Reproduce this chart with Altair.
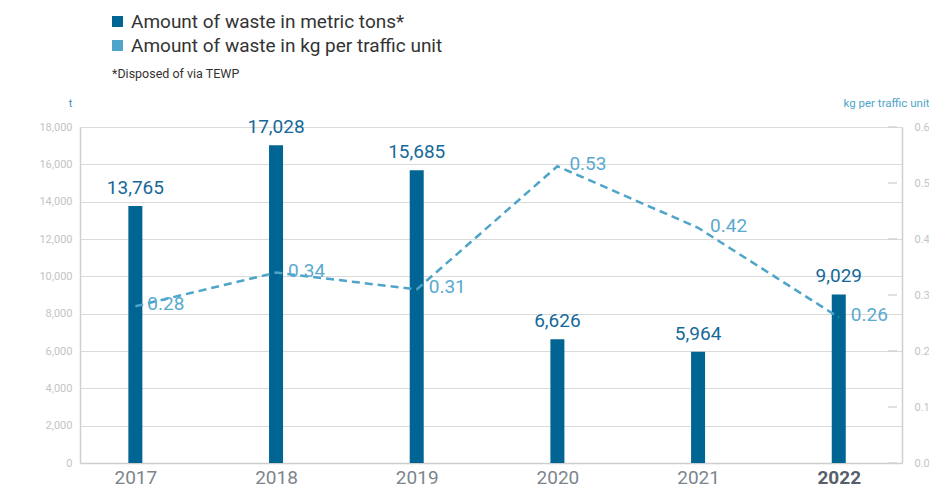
import altair as alt
import pandas as pd

years = [2017, 2018, 2019, 2020, 2021, 2022]
tons = [13765, 17028, 15685, 6626, 5964, 9029]
kg_per_unit = [0.28, 0.34, 0.31, 0.53, 0.42, 0.26]
series_tons = "Amount of waste in metric tons*"
series_kg = "Amount of waste in kg per traffic unit"
footnote = ["*Disposed of via TEWP"]
left_ticks = list(range(0, 18001, 2000))
right_ticks = [0.0, 0.1, 0.2, 0.3, 0.4, 0.5, 0.6]

df = pd.DataFrame({"year": years, "tons": tons, "kg": kg_per_unit,
                   "s_t": series_tons, "s_k": series_kg})
ticks_df = pd.DataFrame({"kg": right_ticks})

FONT = "Roboto, DejaVu Sans, sans-serif"
DARK = "#006593"
LIGHT = "#4ea4c9"
X_MIN, X_MAX = 2016.642, 2022.414
TICK_LEN = 0.065

color_scale = alt.Scale(domain=[series_tons, series_kg], range=[DARK, LIGHT])
xscale = alt.Scale(domain=[X_MIN, X_MAX], nice=False, zero=False)
xaxis = alt.Axis(values=years, format="d", title=None, grid=False, ticks=False,
                 labelFontSize=19, labelFont=FONT, labelPadding=5,
                 labelColor=alt.ExprRef(expr="datum.value == 2022 ? '#56606a' : '#7c858c'"),
                 labelFontWeight=alt.ExprRef(expr="datum.value == 2022 ? 'bold' : 'normal'"),
                 domainColor="#cfcfcf", domainWidth=1.5)
x_enc = alt.X("year:Q", scale=xscale, axis=xaxis)

left_axis = alt.Axis(values=left_ticks, format=",.0f", title="t", titleAngle=0,
                     titleX=-10, titleY=-24, titleAlign="center", titleBaseline="middle",
                     titleColor="#3d8fbf", titleFontSize=11, titleFontWeight="normal",
                     titleFont=FONT, labelFont=FONT,
                     labelColor="#c4c4c4", labelFontSize=11, ticks=False,
                     grid=True, gridColor="#dadada", gridWidth=1.2,
                     domainColor="#cfcfcf", domainWidth=1.5, labelPadding=8)
right_axis = alt.Axis(orient="right", values=right_ticks, format=".1f",
                      title="kg per traffic unit", titleAngle=0, titleX=27, titleY=-24,
                      titleAlign="right", titleBaseline="middle",
                      titleColor="#4ea4c9", titleFontSize=11.5, titleFontWeight="normal",
                      titleFont=FONT, labelFont=FONT,
                      labelColor="#c4c4c4", labelFontSize=11, ticks=False, grid=False,
                      domainColor="#cfcfcf", domainWidth=1.5, labelPadding=12)

y_left = alt.Y("tons:Q", scale=alt.Scale(domain=[0, 18000], nice=False), axis=left_axis)
y_right = alt.Y("kg:Q", scale=alt.Scale(domain=[0, 0.6], nice=False), axis=right_axis)

bars = alt.Chart(df).mark_bar(size=14).encode(
    x=x_enc, y=y_left,
    color=alt.Color("s_t:N", scale=color_scale,
                    legend=alt.Legend(orient="none", legendX=28, legendY=-115, title=None,
                                      symbolType="square", symbolSize=120, symbolStrokeWidth=0,
                                      labelFontSize=19, labelFont=FONT, labelColor="#333333",
                                      labelLimit=500, rowPadding=4, direction="vertical")))
bar_text = alt.Chart(df).mark_text(dy=-8, baseline="bottom", fontSize=19, font=FONT,
                                   color="#15699a").encode(
    x=x_enc, y=y_left, text=alt.Text("tons:Q", format=","))
note = alt.Chart(pd.DataFrame({"t": footnote})).mark_text(
    align="left", baseline="middle", fontSize=12.5, font=FONT, color="#333333").encode(
    x=alt.value(32), y=alt.value(-53), text="t:N")

line = alt.Chart(df).mark_line(strokeDash=[8, 5], strokeWidth=2.5).encode(
    x=x_enc, y=y_right,
    color=alt.Color("s_k:N", scale=color_scale, legend=None))
line_text = alt.Chart(df).mark_text(align="left", baseline="middle", dx=12, dy=-2,
                                    fontSize=19, font=FONT, color="#5aaad0").encode(
    x=x_enc, y=y_right, text=alt.Text("kg:Q", format=".2f"))
right_ticks_layer = alt.Chart(ticks_df).mark_rule(strokeWidth=1.3, color="#cfcfcf").encode(
    x=alt.datum(X_MAX - TICK_LEN, type="quantitative"),
    x2=alt.datum(X_MAX),
    y=y_right)

chart = alt.layer(
    alt.layer(bars, bar_text, note),
    alt.layer(right_ticks_layer, line, line_text),
).resolve_scale(y="independent").properties(
    width=822, height=336,
    padding={"left": 72, "top": 119, "right": 27, "bottom": 28},
    autosize=alt.AutoSizeParams(type="none"),
).configure_view(strokeWidth=0)

chart.save("out.html", embed_options={"renderer": "svg", "actions": False})
